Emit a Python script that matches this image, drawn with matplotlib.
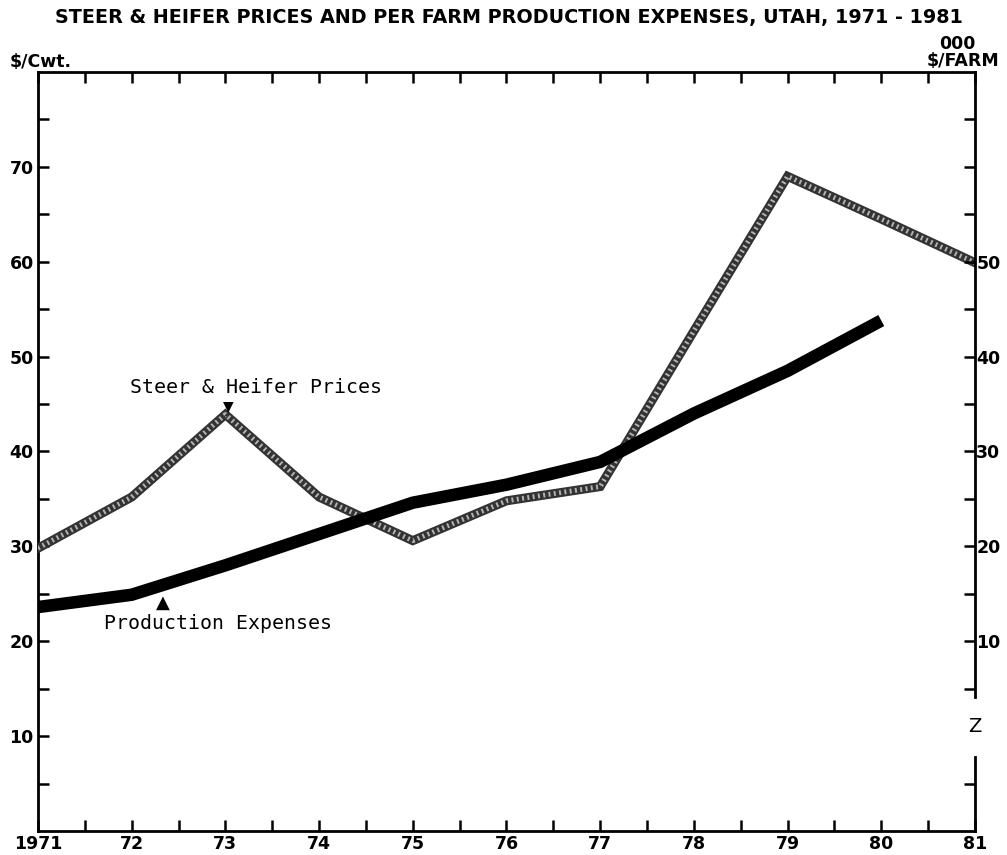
import matplotlib.pyplot as plt
import numpy as np

# Utah steer & heifer prices ($/cwt) and per farm production expenses ($000/farm)
years = [1971, 1972, 1973, 1974, 1975, 1976, 1977, 1978, 1979, 1980, 1981]
steer_prices = [29.8, 35.2, 43.9, 35.2, 30.6, 34.8, 36.3, 52.7, 69.0, 64.5, 59.9]

exp_years = [1971, 1972, 1973, 1974, 1975, 1976, 1977, 1978, 1979, 1980]
expenses = [13.6, 14.9, 18.0, 21.3, 24.6, 26.5, 28.9, 34.0, 38.5, 43.8]

x_labels = ["1971", "72", "73", "74", "75", "76", "77", "78", "79", "80", "81"]
left_labels = [10, 20, 30, 40, 50, 60, 70]
right_labels = [10, 20, 30, 40, 50]

TITLE = "STEER & HEIFER PRICES AND PER FARM PRODUCTION EXPENSES, UTAH, 1971 - 1981"

plt.rcParams["font.family"] = ["DejaVu Sans"]

fig = plt.figure(figsize=(10.07, 8.55), dpi=100)
ax = fig.add_axes([0.0377, 0.0281, 0.9305, 0.8877])
ax2 = ax.twinx()

# Steer & heifer prices: textured grey band
ax.plot(years, steer_prices, color="0.2", lw=6.5, solid_joinstyle="miter", zorder=3)
ax.plot(years, steer_prices, color="0.7", lw=3.5, linestyle=(0, (0.4, 0.7)), zorder=4)

# Production expenses on the right axis
ax2.plot(exp_years, expenses, color="black", lw=9, solid_capstyle="butt",
         solid_joinstyle="round", zorder=5)

ax.set_xlim(1971, 1981)
ax.set_ylim(0, 80)
ax2.set_ylim(-10, 70)

# x ticks, every half year, labels on whole years
ax.set_xticks(years)
ax.set_xticklabels(x_labels)
ax.set_xticks(np.arange(1971.5, 1981, 1.0), minor=True)
ax.tick_params(axis="x", which="both", direction="in", length=8, width=1.8,
               top=True, bottom=True, labelsize=12.5, pad=3)

# left axis
ax.set_yticks(left_labels)
ax.set_yticklabels([str(v) for v in left_labels])
ax.set_yticks(np.arange(5, 80, 10), minor=True)
ax.tick_params(axis="y", which="both", direction="in", length=8, width=1.8,
               left=True, right=False, labelsize=12.5, pad=3)

# right axis
ax2.set_yticks(right_labels)
ax2.set_yticklabels([str(v) for v in right_labels])
ax2.set_yticks([-5, 5, 15, 25, 35, 45, 55, 60, 65], minor=True)
ax2.tick_params(axis="y", which="both", direction="in", length=8, width=1.8,
                labelsize=12.5, pad=1)

for lab in ax.get_xticklabels() + ax.get_yticklabels() + ax2.get_yticklabels():
    lab.set_fontweight("bold")

for sp in ax.spines.values():
    sp.set_linewidth(2)
ax.spines["right"].set_visible(False)
for name in ["left", "top", "bottom"]:
    ax2.spines[name].set_visible(False)

# broken right axis
ax2.spines["right"].set_linewidth(2)
ax2.spines["right"].set_bounds(4.1, 70)
ax2.plot([1981, 1981], [-10, -2.2], color="black", lw=2, clip_on=False, zorder=6)
ax2.text(1981, 1.0, "Z", ha="center", va="center", fontsize=14)

# series labels with pointers
ax.text(1971.98, 46.7, "Steer & Heifer Prices", family="DejaVu Sans Mono",
        fontsize=14.3, ha="left", va="center")
ax.text(1973.03, 44.8, "\u25bc", fontsize=10, ha="center", va="center")
ax.text(1971.71, 21.9, "Production Expenses", family="DejaVu Sans Mono",
        fontsize=14.3, ha="left", va="center")
ax.text(1972.33, 24.0, "\u25b2", fontsize=13, ha="center", va="center")

# titles and units
fig.text(0.505, 0.979, TITLE, ha="center", va="center", fontsize=13.8, fontweight="bold")
fig.text(0.010, 0.927, "$/Cwt.", ha="left", va="center", fontsize=12.5, fontweight="bold")
fig.text(0.951, 0.948, "000", ha="center", va="center", fontsize=12.5, fontweight="bold")
fig.text(0.992, 0.929, "$/FARM", ha="right", va="center", fontsize=12.5, fontweight="bold")

fig.savefig("out.png", dpi=100)
